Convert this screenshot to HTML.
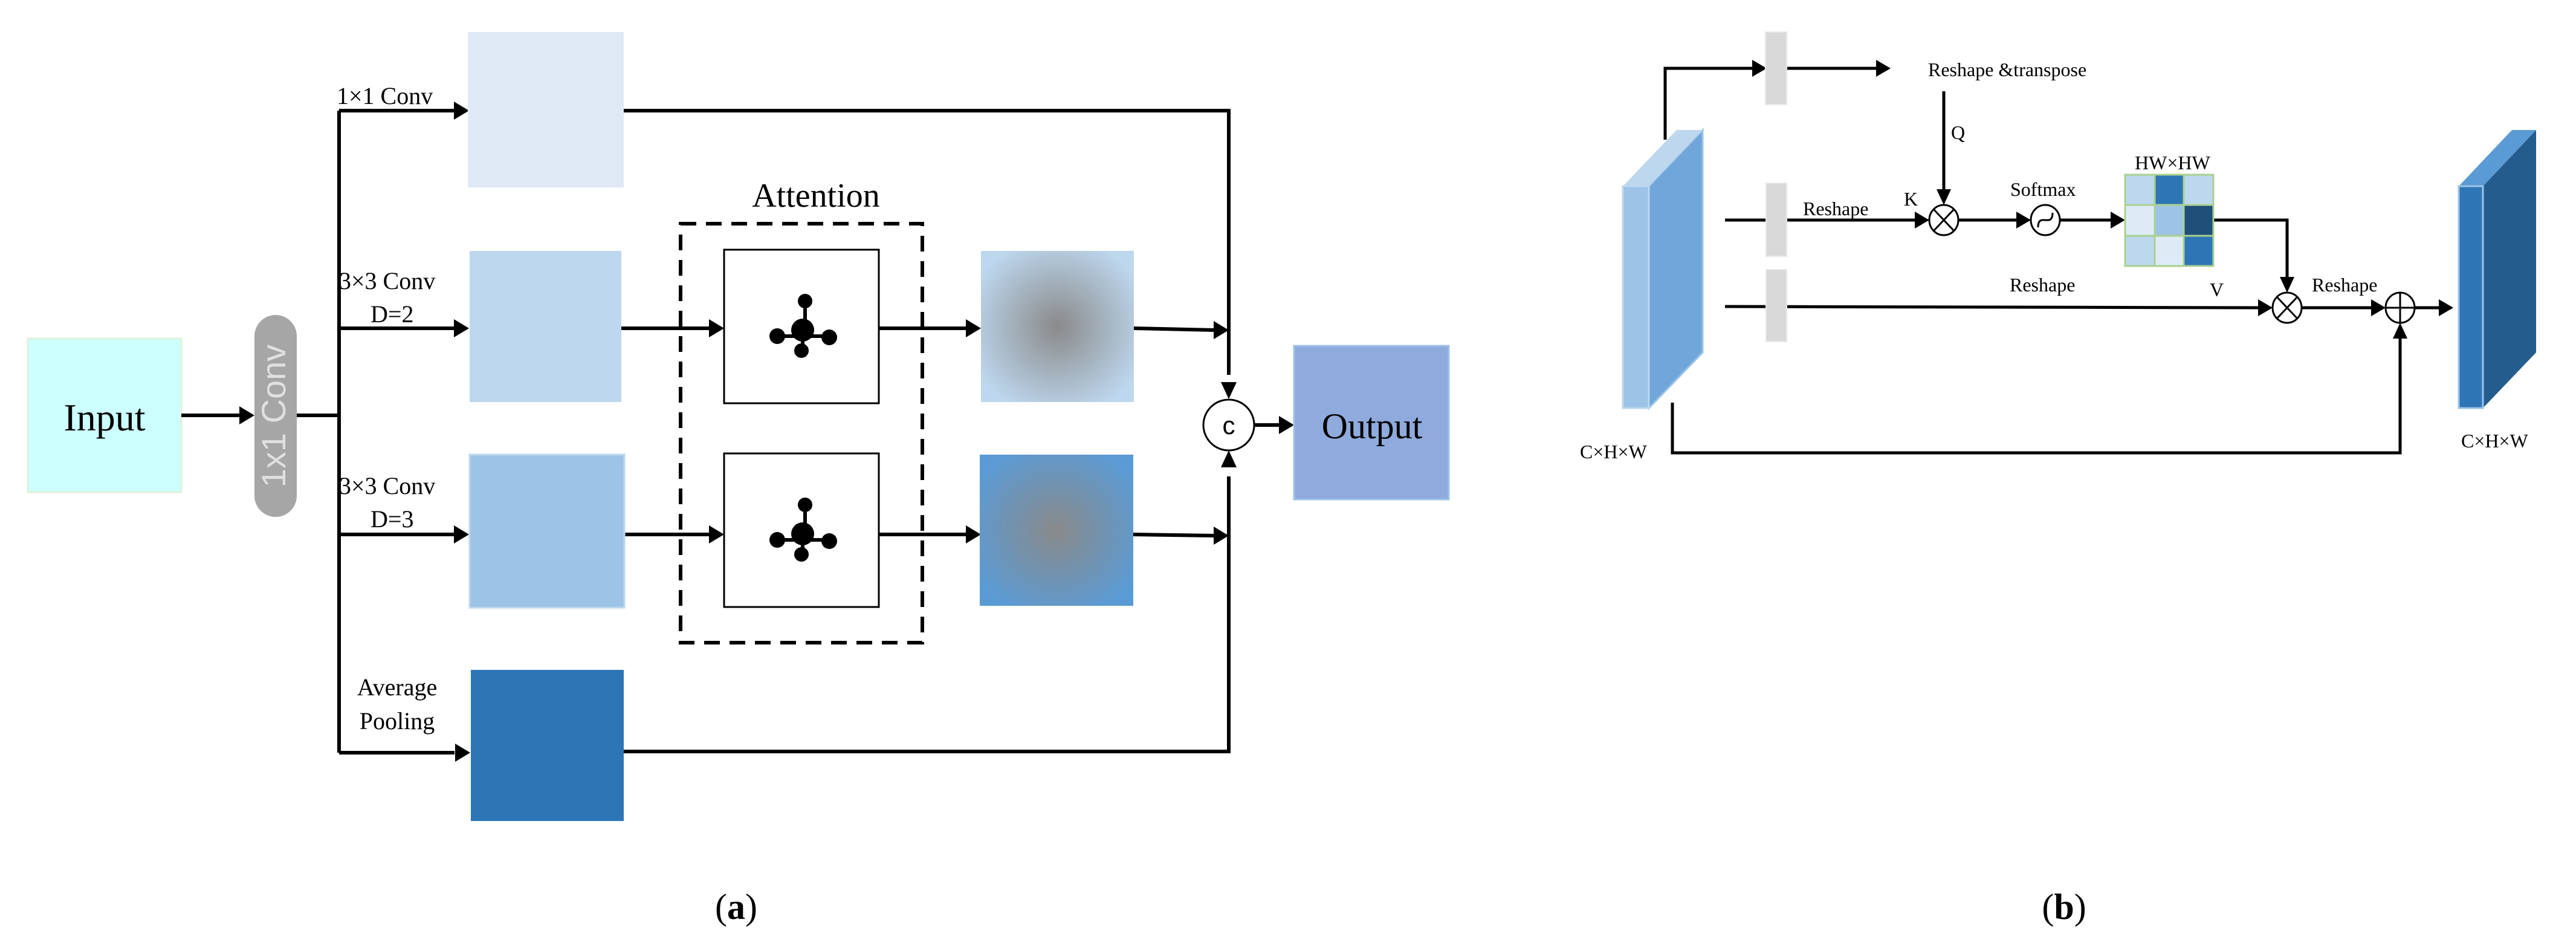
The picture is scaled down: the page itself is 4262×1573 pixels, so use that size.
<!DOCTYPE html>
<html><head><meta charset="utf-8"><style>
html,body{margin:0;padding:0;background:#fff}
svg{display:block}
text{font-family:"Liberation Serif",serif;fill:#000}
</style></head><body>
<svg width="4262" height="1573" viewBox="0 0 4262 1573" xmlns="http://www.w3.org/2000/svg">
<defs>
<marker id="ah" markerWidth="10" markerHeight="10" refX="9" refY="5" orient="auto" markerUnits="userSpaceOnUse" viewBox="0 0 10 10" style="overflow:visible">
</marker>
<radialGradient id="g1" cx="0.5" cy="0.5" r="0.6">
<stop offset="0" stop-color="#8a8a8a"/><stop offset="1" stop-color="#bdd7ee"/></radialGradient>
<radialGradient id="g2" cx="0.5" cy="0.5" r="0.6">
<stop offset="0" stop-color="#8a8a8a"/><stop offset="1" stop-color="#5b9bd5"/></radialGradient>
</defs>
<g id="a">
<!-- Input -->
<rect x="46" y="560" width="254" height="254" fill="#ccffff" stroke="#e2f0d9" stroke-width="3"/>
<text x="173" y="712" font-size="64" text-anchor="middle">Input</text>
<!-- pill -->
<rect x="421" y="521" width="70" height="334" rx="35" fill="#a6a6a6"/>
<text x="0" y="0" font-size="56" fill="#d9d9d9" style="fill:#e0e0e0;font-family:'Liberation Sans',sans-serif" text-anchor="middle" transform="translate(472,688) rotate(-90)">1x1 Conv</text>
<g stroke="#000" stroke-width="6" fill="none">
<line x1="300" y1="687" x2="400" y2="687"/>
<line x1="491" y1="687" x2="561" y2="687"/>
<line x1="561" y1="183" x2="561" y2="1245"/>
<line x1="561" y1="183" x2="752" y2="183"/>
<line x1="561" y1="543" x2="752" y2="543"/>
<line x1="561" y1="884" x2="752" y2="884"/>
<line x1="561" y1="1245" x2="752" y2="1245"/>
<polyline points="1030,183 2033,183 2033,620"/>
<polyline points="1032,1243 2033,1243 2033,788"/>
<line x1="1028" y1="543" x2="1176" y2="543"/>
<line x1="1032" y1="884" x2="1176" y2="884"/>
<line x1="1454" y1="543" x2="1600" y2="543"/>
<line x1="1454" y1="884" x2="1600" y2="884"/>
<line x1="1876" y1="543" x2="2010" y2="546"/>
<line x1="1874" y1="884" x2="2010" y2="886"/>
<line x1="2075" y1="703" x2="2120" y2="703"/>
</g>
<g fill="#000">
<polygon points="421,687 396,672 396,702"/>
<polygon points="776,183 751,168 751,198"/>
<polygon points="776,543 751,528 751,558"/>
<polygon points="776,884 751,869 751,899"/>
<polygon points="778,1245 753,1230 753,1260"/>
<polygon points="1198,543 1173,528 1173,558"/>
<polygon points="1198,884 1173,869 1173,899"/>
<polygon points="1623,543 1598,528 1598,558"/>
<polygon points="1623,884 1598,869 1598,899"/>
<polygon points="2033,546 2008,531 2008,561"/>
<polygon points="2033,886 2008,871 2008,901"/>
<polygon points="2033,660 2020,632 2046,632"/>
<polygon points="2033,745 2020,773 2046,773"/>
<polygon points="2141,703 2116,688 2116,718"/>
</g>
<!-- branch boxes -->
<rect x="774" y="53" width="258" height="257" fill="#dee9f5"/>
<rect x="777" y="415" width="251" height="250" fill="#bdd7ee"/>
<rect x="777" y="752" width="256" height="253" fill="#9dc3e6" stroke="#bdd7ee" stroke-width="3"/>
<rect x="779" y="1108" width="253" height="250" fill="#2e75b6"/>
<text x="557" y="172" font-size="40">1×1 Conv</text>
<text x="561" y="478" font-size="40">3×3 Conv</text>
<text x="613" y="533" font-size="40">D=2</text>
<text x="561" y="817" font-size="40">3×3 Conv</text>
<text x="613" y="872" font-size="40">D=3</text>
<text x="657" y="1150" font-size="40" text-anchor="middle">Average</text>
<text x="657" y="1206" font-size="40" text-anchor="middle">Pooling</text>
<!-- attention -->
<text x="1350" y="342" font-size="56" text-anchor="middle">Attention</text>
<rect x="1126" y="370" width="400" height="693" fill="none" stroke="#000" stroke-width="6" stroke-dasharray="26,16"/>
<rect x="1198" y="413" width="256" height="254" fill="#fff" stroke="#000" stroke-width="3"/>
<rect x="1198" y="750" width="256" height="254" fill="#fff" stroke="#000" stroke-width="3"/>
<g id="mol">
<g stroke="#000" stroke-width="6"><line x1="1332" y1="500" x2="1332" y2="545"/><line x1="1286" y1="556" x2="1372" y2="556"/><line x1="1328" y1="545" x2="1328" y2="578"/></g>
<circle cx="1332" cy="498" r="12" fill="#000"/>
<circle cx="1328" cy="546" r="19" fill="#000"/>
<circle cx="1286" cy="556" r="13" fill="#000"/>
<circle cx="1372" cy="558" r="13" fill="#000"/>
<circle cx="1326" cy="580" r="12" fill="#000"/>
</g>
<use href="#mol" transform="translate(0,337)"/>
<rect x="1623" y="415" width="253" height="250" fill="url(#g1)"/>
<rect x="1621" y="752" width="254" height="250" fill="url(#g2)"/>
<!-- concat -->
<ellipse cx="2033" cy="703" rx="42" ry="42" fill="#fff" stroke="#000" stroke-width="3"/>
<text x="2033" y="718" font-size="42" font-family="Liberation Sans" text-anchor="middle" style="font-family:'Liberation Sans',sans-serif">c</text>
<rect x="2141" y="572" width="256" height="254" fill="#8faadc" stroke="#9dc3e6" stroke-width="3"/>
<text x="2270" y="725" font-size="60" text-anchor="middle">Output</text>
<text x="1218" y="1520" font-size="60" text-anchor="middle">(<tspan font-weight="bold">a</tspan>)</text>
</g>

<g id="b">
<!-- left slab -->
<polygon points="2728,308 2817,215 2817,583 2728,675" fill="#70a6d9" stroke="#9dc3e6" stroke-width="3"/>
<polygon points="2685,308 2774,215 2817,215 2728,308" fill="#bdd7ee"/>
<rect x="2685" y="308" width="43" height="367" fill="#9dc3e6" stroke="#bdd7ee" stroke-width="3"/>
<!-- right slab -->
<polygon points="4108,308 4196,215 4196,583 4108,675" fill="#245c8e"/>
<polygon points="4068,308 4156,215 4196,215 4108,308" fill="#5b9bd5"/>
<rect x="4068" y="308" width="40" height="367" fill="#2e75b6" stroke="#9dc3e6" stroke-width="3"/>
<g stroke="#000" stroke-width="5" fill="none">
<polyline points="2755,231 2755,113 2905,113"/>
<line x1="2956" y1="113" x2="3108" y2="113"/>
<line x1="3216" y1="151" x2="3216" y2="320"/>
<line x1="2854" y1="364" x2="3175" y2="364"/>
<line x1="3240" y1="364" x2="3343" y2="364"/>
<line x1="3408" y1="364" x2="3500" y2="364"/>
<polyline points="3662,364 3784,364 3784,465"/>
<line x1="2854" y1="507" x2="3740" y2="509"/>
<line x1="3808" y1="509" x2="3930" y2="509"/>
<line x1="3995" y1="509" x2="4040" y2="509"/>
<polyline points="2767,666 2767,749 3971,749 3971,555"/>
</g>
<g fill="#000">
<polygon points="2923,113 2899,99 2899,127"/>
<polygon points="3128,113 3104,99 3104,127"/>
<polygon points="3216,339 3204,313 3228,313"/>
<polygon points="3192,364 3168,350 3168,378"/>
<polygon points="3360,364 3336,350 3336,378"/>
<polygon points="3516,364 3492,350 3492,378"/>
<polygon points="3784,484 3772,458 3796,458"/>
<polygon points="3760,509 3736,495 3736,523"/>
<polygon points="3947,509 3923,495 3923,523"/>
<polygon points="4059,509 4035,495 4035,523"/>
<polygon points="3971,534 3959,560 3983,560"/>
</g>
<rect x="2921" y="53" width="35" height="120" fill="#d9d9d9" stroke="#e8e8e8" stroke-width="2"/>
<rect x="2922" y="303" width="34" height="121" fill="#d9d9d9" stroke="#e8e8e8" stroke-width="2"/>
<rect x="2922" y="446" width="34" height="119" fill="#d9d9d9" stroke="#e8e8e8" stroke-width="2"/>
<!-- operators -->
<g fill="#fff" stroke="#000" stroke-width="3">
<ellipse cx="3216" cy="364" rx="24" ry="25"/>
<ellipse cx="3384" cy="364" rx="24" ry="25"/>
<ellipse cx="3784" cy="509" rx="24" ry="25"/>
<ellipse cx="3971" cy="509" rx="24" ry="25"/>
</g>
<g stroke="#000" stroke-width="3" fill="none">
<line x1="3199" y1="346" x2="3233" y2="382"/><line x1="3233" y1="346" x2="3199" y2="382"/>
<line x1="3767" y1="491" x2="3801" y2="527"/><line x1="3801" y1="491" x2="3767" y2="527"/>
<line x1="3947" y1="509" x2="3995" y2="509"/><line x1="3971" y1="484" x2="3971" y2="534"/>
<path d="M3372,376 C3372,350 3396,378 3396,352"/>
</g>
<!-- matrix -->
<g stroke="#a9d18e" stroke-width="3">
<rect x="3516" y="289" width="49" height="50" fill="#bdd7ee"/>
<rect x="3565" y="289" width="48" height="50" fill="#2e75b6"/>
<rect x="3613" y="289" width="49" height="50" fill="#bdd7ee"/>
<rect x="3516" y="339" width="49" height="51" fill="#deebf7"/>
<rect x="3565" y="339" width="48" height="51" fill="#9dc3e6"/>
<rect x="3613" y="339" width="49" height="51" fill="#1f4e79"/>
<rect x="3516" y="390" width="49" height="50" fill="#bdd7ee"/>
<rect x="3565" y="390" width="48" height="50" fill="#deebf7"/>
<rect x="3613" y="390" width="49" height="50" fill="#2e75b6"/>
</g>
<g font-size="32">
<text x="3190" y="126">Reshape &amp;transpose</text>
<text x="3228" y="230">Q</text>
<text x="2983" y="356">Reshape</text>
<text x="3150" y="340">K</text>
<text x="3326" y="324">Softmax</text>
<text x="3532" y="280">HW×HW</text>
<text x="3325" y="482">Reshape</text>
<text x="3656" y="490">V</text>
<text x="3825" y="482">Reshape</text>
<text x="2614" y="758">C×H×W</text>
<text x="4072" y="740">C×H×W</text>
</g>
<text x="3415" y="1520" font-size="60" text-anchor="middle">(<tspan font-weight="bold">b</tspan>)</text>
</g>
</svg>
</body></html>
